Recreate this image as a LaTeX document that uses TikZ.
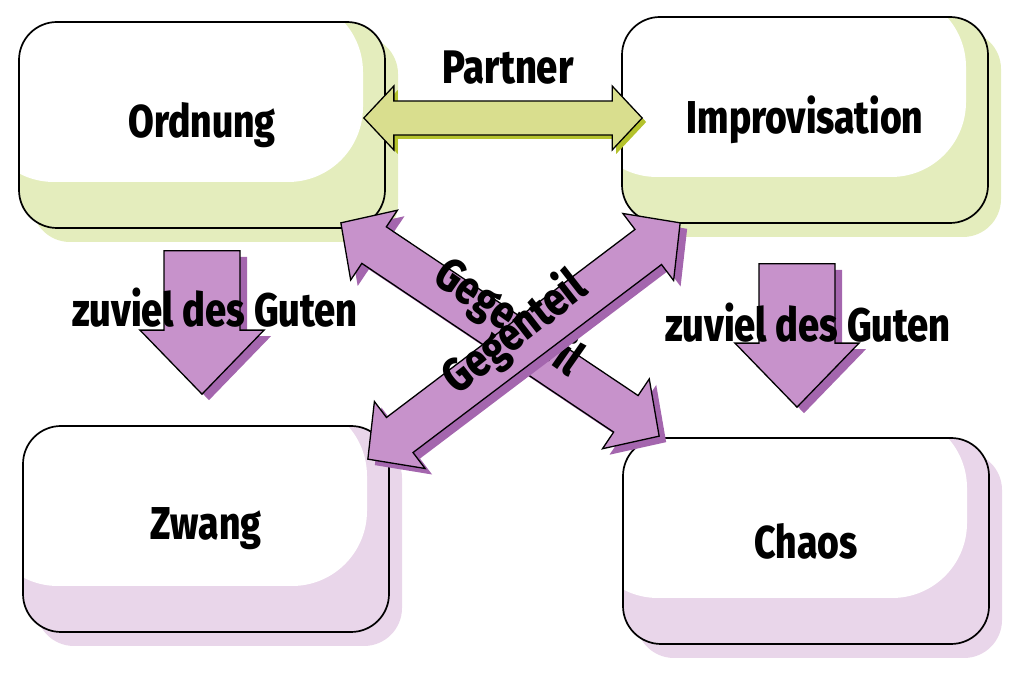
\documentclass[tikz,border=0pt]{standalone}
\usepackage{fontspec}
\setmainfont{Fira Sans}[BoldFont={Fira Sans ExtraBold}, FakeStretch=0.81]
\usetikzlibrary{calc}

\definecolor{gruenschatten}{HTML}{E4EDBD}
\definecolor{lilaschatten}{HTML}{E9D6EA}
\definecolor{gelbgruen}{HTML}{D9DE8E}
\definecolor{gelbgruendunkel}{HTML}{B4C22C}
\definecolor{lila}{HTML}{C792CB}
\definecolor{lilaDunkel}{HTML}{A466AE}

% Doppelpfeil: Stil, halbe Schaftbreite, halbe Kopfbreite, Kopflaenge, von, nach
\newcommand{\doppelpfeil}[6]{%
  \path[#1] let \p1=($(#6)-(#5)$), \n1={atan2(\y1,\x1)}, \n2={veclen(\x1,\y1)} in
    (#5) -- ($(#5)+(\n1:#4)+(\n1+90:#3)$) -- ($(#5)+(\n1:#4)+(\n1+90:#2)$)
    -- ($(#5)+(\n1:{\n2-#4})+(\n1+90:#2)$) -- ($(#5)+(\n1:{\n2-#4})+(\n1+90:#3)$)
    -- (#6) -- ($(#5)+(\n1:{\n2-#4})+(\n1-90:#3)$) -- ($(#5)+(\n1:{\n2-#4})+(\n1-90:#2)$)
    -- ($(#5)+(\n1:#4)+(\n1-90:#2)$) -- ($(#5)+(\n1:#4)+(\n1-90:#3)$) -- cycle;}

% Einzelpfeil mit flachem Ende
\newcommand{\einzelpfeil}[6]{%
  \path[#1] let \p1=($(#6)-(#5)$), \n1={atan2(\y1,\x1)}, \n2={veclen(\x1,\y1)} in
    ($(#5)+(\n1+90:#2)$) -- ($(#5)+(\n1:{\n2-#4})+(\n1+90:#2)$) -- ($(#5)+(\n1:{\n2-#4})+(\n1+90:#3)$)
    -- (#6) -- ($(#5)+(\n1:{\n2-#4})+(\n1-90:#3)$) -- ($(#5)+(\n1:{\n2-#4})+(\n1-90:#2)$)
    -- ($(#5)+(\n1-90:#2)$) -- cycle;}

\begin{document}
\begin{tikzpicture}[x=1pt, y=1pt,
    kasten/.style={draw=black, line width=1.7pt, rounded corners=38pt,
      minimum width=366pt, minimum height=206pt, inner sep=0pt,
      font=\fontsize{46}{50}\selectfont\bfseries,
      preaction={fill=#1, draw=none, transform canvas={shift={(13,-14)}}},
      path picture={
        \fill[#1] (path picture bounding box.south west) rectangle (path picture bounding box.north east);
        \fill[white, rounded corners=75pt] ($(path picture bounding box.north west)+(-40,25)$) rectangle ($(path picture bounding box.south east)+(-22,46)$);
      }},
    gruenpfeil/.style={draw=black, line width=1.3pt, fill=gelbgruen,
      preaction={fill=gelbgruendunkel, draw=none, transform canvas={shift={(4,-4)}}}},
    lilapfeil/.style={draw=black, line width=1.3pt, fill=lila,
      preaction={fill=lilaDunkel, draw=none, transform canvas={shift={(7,-6)}}}},
    schrift/.style={font=\fontsize{47}{50}\selectfont\bfseries, inner sep=0pt}]

    \useasboundingbox (0,0) rectangle (1030,674);

    % die vier Kaesten
    \node[kasten=gruenschatten] (ord) at (202,549) {Ordnung};
    \node[kasten=gruenschatten] (imp) at (805,554) {Improvisation};
    \node[kasten=lilaschatten] (zw) at (206,145) {Zwang};
    \node[kasten=lilaschatten] (chaos) at (806,133) {Chaos};

    % Enden der Pfeile
    \coordinate (partnerA) at ($(ord.east)+(-22,7)$);
    \coordinate (partnerB) at ($(imp.west)+(21,2)$);
    \coordinate (gutlinksA) at ($(ord.south)+(0,-22)$);
    \coordinate (gutlinksB) at ($(zw.north)+(-4,31)$);
    \coordinate (gutrechtsA) at ($(imp.south)+(-8,-40)$);
    \coordinate (gutrechtsB) at ($(chaos.north)+(-9,30)$);
    \coordinate (gegen1A) at ($(ord.south east)+(-45,6)$);
    \coordinate (gegen1B) at ($(chaos.north west)+(37,1)$);
    \coordinate (gegen2A) at ($(zw.north east)+(-22,-34)$);
    \coordinate (gegen2B) at ($(imp.south west)+(59,1)$);

    % Partner
    \doppelpfeil{gruenpfeil}{17}{32}{30}{partnerA}{partnerB}
    \node[schrift] (partnertext) at (508,606) {Partner};

    % zuviel des Guten
    \einzelpfeil{lilapfeil}{38}{62}{64}{gutlinksA}{gutlinksB}
    \einzelpfeil{lilapfeil}{38}{62}{64}{gutrechtsA}{gutrechtsB}
    \node[schrift] (gutlinkstext) at (215,366) {zuviel des Guten};
    \node[schrift] (gutrechtstext) at (808,351) {zuviel des Guten};

    % Gegenteil, ueber Kreuz
    \doppelpfeil{lilapfeil}{22}{42}{40}{gegen1A}{gegen1B}
    \node[schrift, rotate=-35] (gegen1text) at (508,356) {Gegenteil};
    \doppelpfeil{lilapfeil}{22}{42}{40}{gegen2A}{gegen2B}
    \node[schrift, rotate=38] (gegen2text) at (515,341) {Gegenteil};
\end{tikzpicture}
\end{document}
